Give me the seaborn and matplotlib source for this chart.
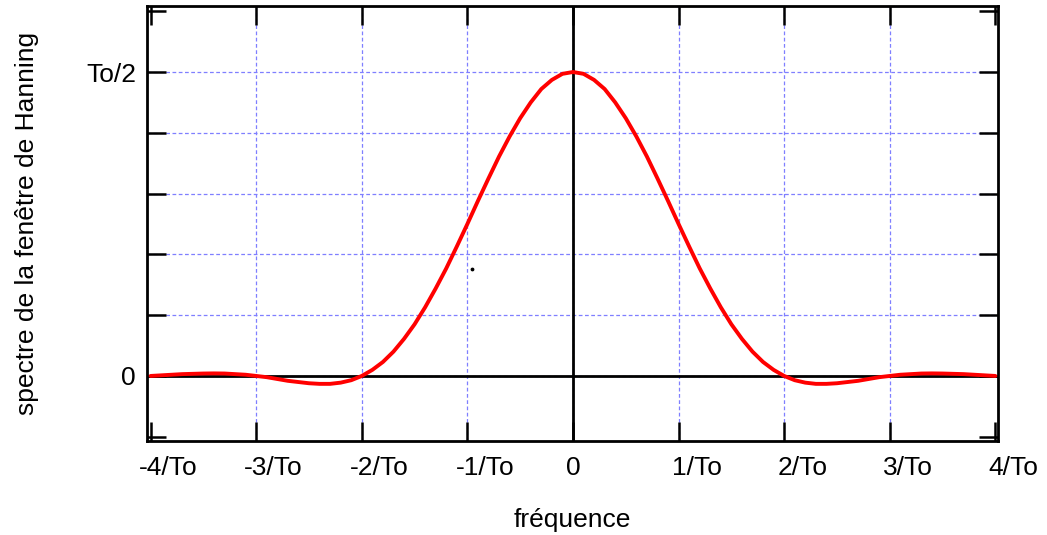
import matplotlib.pyplot as plt
import seaborn as sns
import pandas as pd
from matplotlib.transforms import ScaledTranslation

sns.set_style("white")
plt.rcParams['font.family'] = ['Liberation Sans', 'DejaVu Sans']

# values (frequency in units of 1/To, amplitude with To = 1)
freq = [-4.0, -3.9, -3.8, -3.7, -3.6, -3.5, -3.4, -3.3, -3.2, -3.1,
        -3.0, -2.9, -2.8, -2.7, -2.6, -2.5, -2.4, -2.3, -2.2, -2.1,
        -2.0, -1.9, -1.8, -1.7, -1.6, -1.5, -1.4, -1.3, -1.2, -1.1,
        -1.0, -0.9, -0.8, -0.7, -0.6, -0.5, -0.4, -0.3, -0.2, -0.1,
        0.0, 0.1, 0.2, 0.3, 0.4, 0.5, 0.6, 0.7, 0.8, 0.9,
        1.0, 1.1, 1.2, 1.3, 1.4, 1.5, 1.6, 1.7, 1.8, 1.9,
        2.0, 2.1, 2.2, 2.3, 2.4, 2.5, 2.6, 2.7, 2.8, 2.9,
        3.0, 3.1, 3.2, 3.3, 3.4, 3.5, 3.6, 3.7, 3.8, 3.9, 4.0]
spectrum = [0.000, 0.001, 0.002, 0.003, 0.0035, 0.004, 0.0042, 0.004, 0.003, 0.002,
            0.000, -0.002, -0.005, -0.008, -0.010, -0.012, -0.013, -0.013, -0.011, -0.007,
            0.000, 0.010, 0.023, 0.040, 0.061, 0.085, 0.113, 0.144, 0.177, 0.213,
            0.250, 0.288, 0.325, 0.361, 0.394, 0.424, 0.450, 0.472, 0.487, 0.497,
            0.500, 0.497, 0.487, 0.472, 0.450, 0.424, 0.394, 0.361, 0.325, 0.288,
            0.250, 0.213, 0.177, 0.144, 0.113, 0.085, 0.061, 0.040, 0.023, 0.010,
            0.000, -0.007, -0.011, -0.013, -0.013, -0.012, -0.010, -0.008, -0.005, -0.002,
            0.000, 0.002, 0.003, 0.004, 0.0042, 0.004, 0.0035, 0.003, 0.002, 0.001, 0.000]

xticks = [-4, -3, -2, -1, 0, 1, 2, 3, 4]
xticklabels = ['-4/To', '-3/To', '-2/To', '-1/To', '0', '1/To', '2/To', '3/To', '4/To']
yticks = [-0.1, 0.0, 0.1, 0.2, 0.3, 0.4, 0.5, 0.6]
yticklabels = ['', '0', '', '', '', '', 'To/2', '']

# stray dot visible in the reference
dot_x = [-0.957]
dot_y = [0.176]

df = pd.DataFrame({'f': freq, 'W': spectrum})

fig = plt.figure(figsize=(10.47, 5.35), dpi=100)
ax = fig.add_axes([0.1404, 0.1757, 0.8128, 0.8131])
ax.set_axisbelow(False)  # ticks over the grid

# dotted blue grid on the inner ticks only
grid_kw = dict(color='#7f7fff', linestyle=(0, (3, 2)), linewidth=0.9, zorder=1)
for x in xticks[1:-1]:
    ax.axvline(x, **grid_kw)
for y in yticks[1:-1]:
    ax.axhline(y, **grid_kw)
ax.axhline(0, color='black', lw=2, zorder=2)
ax.axvline(0, color='black', lw=2, zorder=2)

sns.lineplot(data=df, x='f', y='W', color='red', lw=2.8, ax=ax, zorder=3)
ax.scatter(dot_x, dot_y, s=3, color='black', zorder=3)

ax.set_xlim(-4.034, 4.025)
ax.set_ylim(-0.107, 0.6086)
ax.set_xticks(xticks)
ax.set_xticklabels(xticklabels)
ax.set_yticks(yticks)
ax.set_yticklabels(yticklabels)

ax.tick_params(direction='in', length=14, width=1.8,
               top=True, right=True, bottom=True, left=True,
               labelsize=19, colors='black')
ax.tick_params(axis='x', pad=11)
ax.tick_params(axis='y', pad=8)
for s in ax.spines.values():
    s.set_linewidth(2)
    s.set_color('black')

# the digit of each label sits on its tick
for lab, txt in zip(ax.get_xticklabels(), xticklabels):
    if txt == '0':
        continue
    dx = -12 if txt.startswith('-') else -7
    lab.set_horizontalalignment('left')
    lab.set_transform(lab.get_transform() + ScaledTranslation(dx / 100, 0, fig.dpi_scale_trans))

ax.set_xlabel('fréquence', fontsize=19, labelpad=20, color='black')
ax.set_ylabel('spectre de la fenêtre de Hanning', fontsize=19, labelpad=34, color='black')

fig.savefig('out.png', dpi=100)
